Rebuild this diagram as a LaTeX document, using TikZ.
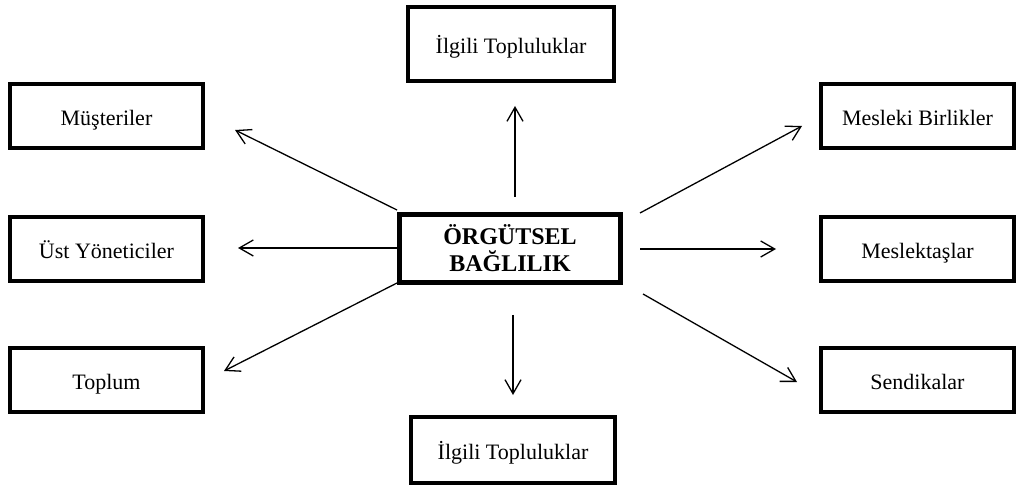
\documentclass[tikz,border=0pt]{standalone}
\usepackage{fontspec}
\setmainfont{Liberation Serif}
\usetikzlibrary{arrows.meta}
\begin{document}
\begin{tikzpicture}[x=1pt,y=-1pt,
  box/.style={draw,line width=4pt,minimum width=193pt,minimum height=64pt,inner sep=0pt,text height=21pt,text depth=2pt,font=\fontsize{22}{26}\selectfont},
  centerbox/.style={draw,line width=5pt,minimum width=221pt,minimum height=68pt,inner sep=0pt,align=center,font=\fontsize{24}{27}\selectfont\bfseries},
  conn/.style={line width=1.3pt,-{Straight Barb[length=14pt,width=16pt,line width=1.3pt]}}]
\useasboundingbox (0,0) rectangle (1023,486);
\node[centerbox] (c) at (510,248.5) {ÖRGÜTSEL\\BAĞLILIK};
\node[box,minimum width=206pt,minimum height=74pt] (top) at (511,44) {İlgili Topluluklar};
\node[box,minimum width=204pt,minimum height=66pt] (bot) at (513,450) {İlgili Topluluklar};
\node[box] (mus) at (106.5,116) {Müşteriler};
\node[box] (ust) at (106.5,249) {Üst Yöneticiler};
\node[box] (top2) at (106.5,380) {Toplum};
\node[box] (mes) at (917.5,116) {Mesleki Birlikler};
\node[box] (mkt) at (917.5,249) {Meslektaşlar};
\node[box] (sen) at (917.5,380) {Sendikalar};
\coordinate (s1) at (397,210); \coordinate (e1) at (235,130);
\coordinate (s2) at (397,248); \coordinate (e2) at (238,248);
\coordinate (s3) at (397,283); \coordinate (e3) at (224,371);
\coordinate (s4) at (640,213); \coordinate (e4) at (802,126);
\coordinate (s5) at (640,249); \coordinate (e5) at (776,249);
\coordinate (s6) at (643,294); \coordinate (e6) at (797,382);
\coordinate (s7) at (515,197); \coordinate (e7) at (515,106);
\coordinate (s8) at (513,315); \coordinate (e8) at (513,395);
\foreach \i in {1,...,8} {\draw[conn] (s\i) -- (e\i);}
\end{tikzpicture}
\end{document}
